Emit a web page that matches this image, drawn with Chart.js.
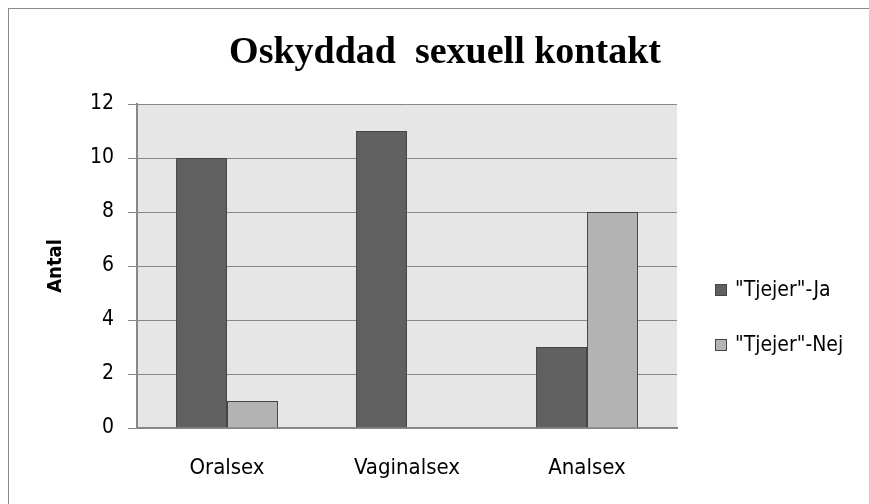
<!DOCTYPE html>
<html>
<head>
<meta charset="utf-8">
<script src="https://cdn.jsdelivr.net/npm/chart.js@4"></script>
<style>
  html, body { margin: 0; padding: 0; background: #fff; }
  #wrap { width: 869px; height: 504px; position: relative; }
</style>
</head>
<body>
<div id="wrap"><canvas id="chart"></canvas></div>
<script>
const categories = ["Oralsex", "Vaginalsex", "Analsex"];
const tjejerJa = [10, 11, 3];
const tjejerNej = [1, 0, 8];
const seriesLabels = ['"Tjejer"-Ja', '"Tjejer"-Nej'];
const chartTitle = "Oskyddad  sexuell kontakt";
const yTitle = "Antal";
const yMax = 12;
const yStep = 2;

const colors = ["#606060", "#b3b3b3"];
const gridGray = "#878787";
const cond = "'DejaVu Sans Condensed', 'DejaVu Sans', sans-serif";

// plot background, outer frame, title and legend
const decor = {
  id: "decor",
  beforeDraw(chart) {
    const { ctx, chartArea: a } = chart;
    ctx.save();
    ctx.fillStyle = "#e6e6e6";
    ctx.fillRect(a.left, a.top, a.right - a.left, a.bottom - a.top);
    ctx.restore();
  },
  afterDraw(chart) {
    const ctx = chart.ctx;
    ctx.save();
    ctx.strokeStyle = "#8a8a8a";
    ctx.lineWidth = 1;
    ctx.strokeRect(8.5, 8.5, 900, 600);

    ctx.fillStyle = "#000";
    ctx.font = "bold 38px 'Liberation Serif', serif";
    ctx.textAlign = "center";
    ctx.textBaseline = "alphabetic";
    ctx.fillText(chartTitle, 445, 63);

    ctx.font = "21px " + cond;
    ctx.textAlign = "left";
    ctx.textBaseline = "middle";
    chart.data.datasets.forEach((ds, i) => {
      const y = 290 + i * 55;
      ctx.fillStyle = ds.backgroundColor;
      ctx.fillRect(715, y - 6, 12, 12);
      ctx.strokeStyle = "#454545";
      ctx.strokeRect(715.5, y - 5.5, 11, 11);
      ctx.fillStyle = "#000";
      ctx.fillText(ds.label, 735, y + 1);
    });
    ctx.restore();
  }
};

new Chart(document.getElementById("chart"), {
  type: "bar",
  data: {
    labels: categories,
    datasets: [
      {
        label: seriesLabels[0],
        data: tjejerJa,
        backgroundColor: colors[0],
        borderColor: "#454545",
        borderWidth: (c) => (c.raw === 0 ? 0 : 1),
        borderSkipped: "bottom",
        categoryPercentage: 0.567,
        barPercentage: 1
      },
      {
        label: seriesLabels[1],
        data: tjejerNej,
        backgroundColor: colors[1],
        borderColor: "#454545",
        borderWidth: (c) => (c.raw === 0 ? 0 : 1),
        borderSkipped: "bottom",
        categoryPercentage: 0.567,
        barPercentage: 1
      }
    ]
  },
  options: {
    responsive: true,
    maintainAspectRatio: false,
    animation: false,
    layout: { padding: { top: 104, right: 192, bottom: 0, left: 0 } },
    plugins: {
      legend: { display: false },
      title: { display: false },
      tooltip: { enabled: false }
    },
    scales: {
      x: {
        grid: { display: true, color: "rgba(0,0,0,0)", drawTicks: false },
        border: { display: true, color: gridGray, width: 2 },
        ticks: {
          color: "#000",
          padding: 27,
          font: { family: cond, size: 22 }
        },
        afterFit: (s) => { s.height = 76; }
      },
      y: {
        min: 0,
        max: yMax,
        grid: { color: gridGray, lineWidth: 1, tickLength: 9 },
        border: { display: true, color: gridGray, width: 2 },
        ticks: {
          stepSize: yStep,
          color: "#000",
          padding: 14,
          font: { family: cond, size: 21 }
        },
        title: {
          display: true,
          text: yTitle,
          color: "#000",
          padding: { top: 44, bottom: 0 },
          font: { family: cond, size: 20, weight: "bold" }
        },
        afterFit: (s) => { s.width = 137; }
      }
    }
  },
  plugins: [decor]
});
</script>
</body>
</html>
